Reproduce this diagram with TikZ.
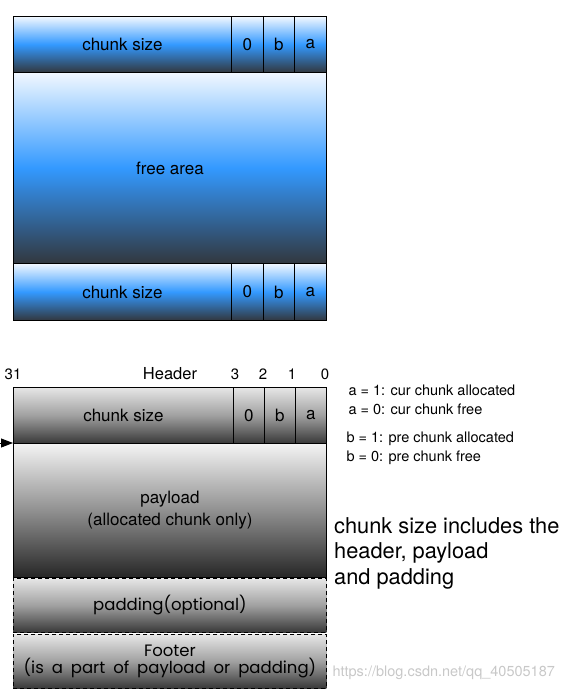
\documentclass[tikz,border=0pt]{standalone}
\usepackage{fontspec}
\setmainfont{TeX Gyre Heros}
\newfontfamily\roundfont{Poppins}[WordSpace=1.8]
\usetikzlibrary{arrows.meta}

\definecolor{blueTop}{HTML}{F2F8FF}
\definecolor{blueMid}{HTML}{3399FF}
\definecolor{blueBot}{HTML}{32373E}
\definecolor{greyTop}{HTML}{E6E6E6}
\definecolor{greyMid}{HTML}{A0A0A0}
\definecolor{greyBot}{HTML}{383838}
\definecolor{loadTop}{HTML}{F4F4F4}
\definecolor{loadMid}{HTML}{909090}
\definecolor{loadBot}{HTML}{262626}
\definecolor{markGrey}{HTML}{C8C8C8}

\tikzset{
  bluecell/.style={draw, line width=0.9pt, inner sep=0pt, anchor=north west,
    top color=blueTop, bottom color=blueBot, middle color=blueMid,
    font=\fontsize{17}{20}\selectfont},
  greycell/.style={draw, line width=0.9pt, inner sep=0pt, anchor=north west,
    top color=greyTop, bottom color=greyBot, middle color=greyMid,
    font=\fontsize{17}{20}\selectfont},
  loadcell/.style={greycell, top color=loadTop, bottom color=loadBot, middle color=loadMid,
    align=center, font=\fontsize{17}{22}\selectfont},
  optcell/.style={greycell, dash pattern=on 4pt off 3pt, align=center,
    font=\roundfont\fontsize{16.5}{17}\selectfont},
  bitlabel/.style={anchor=base, font=\fontsize{15}{18}\selectfont},
  note/.style={anchor=base west, font=\fontsize{14.5}{17}\selectfont},
  bignote/.style={anchor=north west, align=left, inner sep=0pt, font=\fontsize{21.8}{25.5}\selectfont}
}

\begin{document}
\begin{tikzpicture}[x=1pt,y=-1pt]
  \useasboundingbox (0,0) rectangle (576,691);

  % free chunk
  \node[bluecell, minimum width=218pt, minimum height=56pt] (fsize) at (13,16) {chunk size};
  \node[bluecell, minimum width=32pt, minimum height=56pt] (fzero) at (231,16) {0};
  \node[bluecell, minimum width=31pt, minimum height=56pt] (fb) at (263,16) {b};
  \node[bluecell, minimum width=32pt, minimum height=56pt] (fa) at (294,16) {a};
  \node[bluecell, minimum width=313pt, minimum height=191pt] (farea) at (13,72) {free area};
  \node[bluecell, minimum width=218pt, minimum height=57pt] (ftsize) at (13,263) {chunk size};
  \node[bluecell, minimum width=32pt, minimum height=57pt] (ftzero) at (231,263) {0};
  \node[bluecell, minimum width=31pt, minimum height=57pt] (ftb) at (263,263) {b};
  \node[bluecell, minimum width=32pt, minimum height=57pt] (fta) at (294,263) {a};

  % bit numbers
  \node[bitlabel] (b31) at (13,379) {31};
  \node[bitlabel, font=\fontsize{16.5}{19}\selectfont] (hdr) at (170,379) {Header};
  \node[bitlabel] (b3) at (235,379) {3};
  \node[bitlabel] (b2) at (263,379) {2};
  \node[bitlabel] (b1) at (292,379) {1};
  \node[bitlabel] (b0) at (325,379) {0};

  % allocated chunk
  \node[greycell, minimum width=220pt, minimum height=56pt] (asize) at (13,387) {chunk size};
  \node[greycell, minimum width=31pt, minimum height=56pt] (azero) at (233,387) {0};
  \node[greycell, minimum width=31pt, minimum height=56pt] (ab) at (264,387) {b};
  \node[greycell, minimum width=31pt, minimum height=56pt] (aa) at (295,387) {a};
  \node[loadcell, minimum width=313pt, minimum height=134pt] (payload) at (13,443)
    {payload\\(allocated chunk only)};
  \node[optcell, minimum width=313pt, minimum height=54pt] (padding) at (13,578) {padding(optional)};
  \node[optcell, minimum width=313pt, minimum height=54pt] (footer) at (13,634)
    {Footer\\(is a part of payload or padding)};

  \coordinate (ptr) at (0,443);
  \draw[-{Triangle[length=12pt,width=9pt]}, line width=0.9pt] (ptr) -- (payload.north west);

  % notes
  \node[note] (acur) at (345,395) {a = 1: cur chunk allocated};
  \node[note] (afree) at (345,414) {a = 0: cur chunk free};
  \node[note] (bpre) at (343,442) {b = 1: pre chunk allocated};
  \node[note] (bfree) at (343,461) {b = 0: pre chunk free};
  \node[bignote] (incl) at (334,517) {chunk size includes the\\header, payload\\and padding};

  \node[anchor=base west, text=markGrey, font=\fontsize{14.5}{17}\selectfont] (mark) at (329,676)
    {https://blog.csdn.net/qq\_40505187};
\end{tikzpicture}
\end{document}
